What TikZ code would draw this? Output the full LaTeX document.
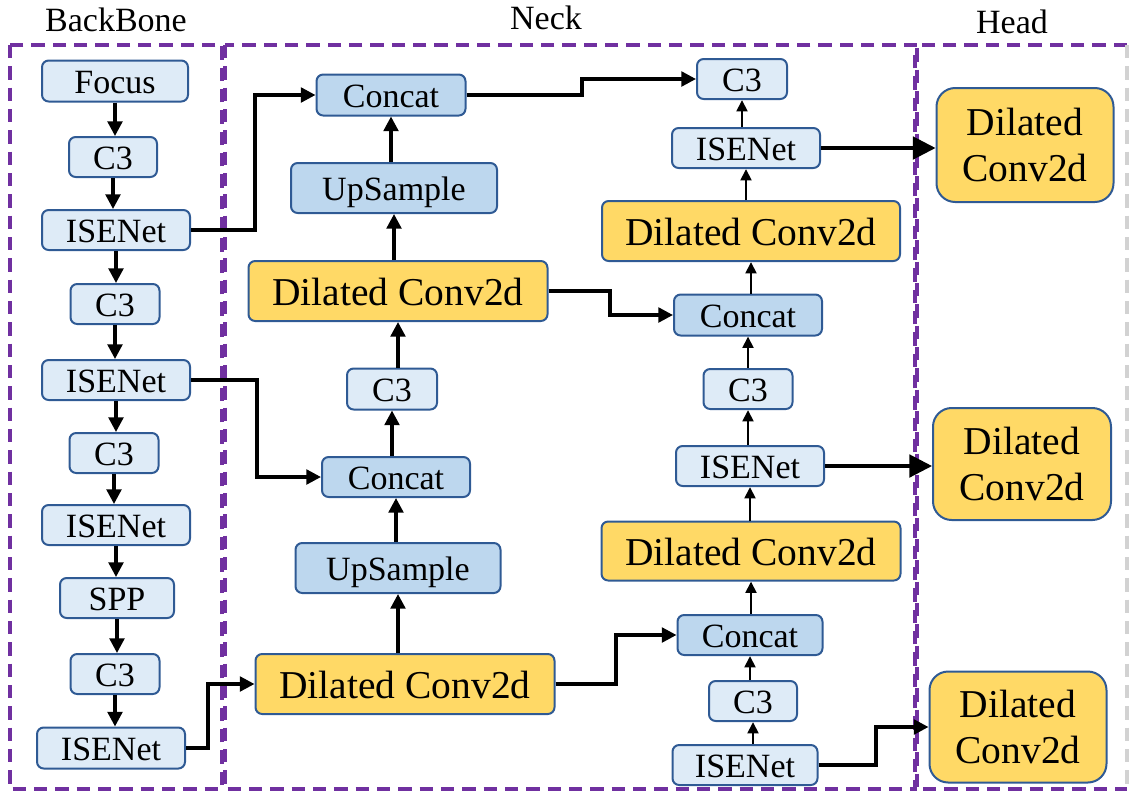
\documentclass[tikz,border=0pt]{standalone}
\usepackage{fontspec}
\setmainfont{Liberation Serif}
\usetikzlibrary{arrows.meta}

\definecolor{lightb}{HTML}{DEEBF7}
\definecolor{midb}{HTML}{BDD7EE}
\definecolor{goldc}{HTML}{FFD966}
\definecolor{bordc}{HTML}{2F5A94}
\definecolor{zonec}{HTML}{7030A0}

\newcommand\upx{0.75pt}

\begin{document}
\begin{tikzpicture}[x=0.75pt, y=-0.75pt,
  sz/.style 2 args={minimum width=#1*\upx, minimum height=#2*\upx},
  blk/.style={draw=bordc, line width=1.5pt, rounded corners=5pt, inner sep=0pt,
              font=\fontsize{25.5}{30}\selectfont, text height=21pt, text depth=2pt},
  lb/.style={blk, fill=lightb},
  mb/.style={blk, fill=midb},
  gd/.style={blk, fill=goldc, font=\fontsize{29.6}{34}\selectfont, text height=24pt, text depth=3pt},
  hd/.style={draw=bordc, fill=goldc, line width=1.5pt, rounded corners=14pt, inner sep=0pt,
             align=center, font=\fontsize{29.6}{34.5}\selectfont},
  arr/.style={line width=2.5pt, -{Triangle[length=11pt,width=11pt]}},
  sarr/.style={line width=2.2pt, -{Triangle[length=8.5pt,width=8pt]}},
  barr/.style={line width=2.3pt, -{Triangle[length=17pt,width=17pt]}},
  zone/.style={draw=zonec, line width=3pt, dash pattern=on 10pt off 6pt},
  ttl/.style={font=\fontsize{25.5}{30}\selectfont, inner sep=0pt}
]
\useasboundingbox (0,0) rectangle (1129,794);

% section frames
\draw[zone] (10,45) rectangle (222,789);
\draw[zone] (225,45) rectangle (915,789);
\draw[zone] (1127,45) -- (917,45) -- (917,789) -- (1127,789);
\draw[gray!35, line width=2.5pt, dash pattern=on 10pt off 6pt] (1127,45) -- (1127,789);

% section titles
\node[ttl] (tb) at (116,20) {BackBone};
\node[ttl] (tn) at (546,18) {Neck};
\node[ttl] (th) at (1012,22) {Head};

% backbone
\node[lb, sz={146}{41}] (b1) at (115,81) {Focus};
\node[lb, sz={88}{40}]  (b2) at (113,157) {C3};
\node[lb, sz={148}{40}] (b3) at (116,230) {ISENet};
\node[lb, sz={89}{40}]  (b4) at (115,304) {C3};
\node[lb, sz={148}{40}] (b5) at (116,380) {ISENet};
\node[lb, sz={89}{40}]  (b6) at (114,453) {C3};
\node[lb, sz={148}{40}] (b7) at (116,525) {ISENet};
\node[lb, sz={114}{40}] (b8) at (117,598) {SPP};
\node[lb, sz={89}{40}]  (b9) at (115,674) {C3};
\node[lb, sz={148}{41}] (b10) at (111,748) {ISENet};

\foreach \a/\b in {b1/b2, b2/b3, b3/b4, b4/b5, b5/b6, b6/b7, b7/b8, b8/b9, b9/b10}
  \draw[arr] (\a.south) -- (\a.south |- \b.north);

% neck, upward path
\node[mb, sz={149}{41}] (n1) at (391,95) {Concat};
\node[mb, sz={206}{50}] (n2) at (394,188) {UpSample};
\node[gd, sz={299}{60}] (n3) at (398,291) {Dilated Conv2d};
\node[lb, sz={90}{41}]  (n4) at (392,389) {C3};
\node[mb, sz={148}{40}] (n5) at (396,477) {Concat};
\node[mb, sz={205}{50}] (n6) at (398,568) {UpSample};
\node[gd, sz={299}{60}] (n7) at (405,684) {Dilated Conv2d};

\foreach \a/\b in {n7/n6, n6/n5, n5/n4, n4/n3, n3/n2, n2/n1}
  \draw[arr] (\b.south |- \a.north) -- (\b.south);

% neck, downward path
\node[lb, sz={90}{40}]  (r1) at (742,79) {C3};
\node[lb, sz={148}{40}] (r2) at (746,148) {ISENet};
\node[gd, sz={298}{60}] (r3) at (751,231) {Dilated Conv2d};
\node[mb, sz={148}{41}] (r4) at (748,315) {Concat};
\node[lb, sz={89}{40}]  (r5) at (748,389) {C3};
\node[lb, sz={148}{40}] (r6) at (750,466) {ISENet};
\node[gd, sz={299}{59}] (r7) at (751,551) {Dilated Conv2d};
\node[mb, sz={145}{40}] (r8) at (750,635) {Concat};
\node[lb, sz={88}{40}]  (r9) at (753,701) {C3};
\node[lb, sz={145}{40}] (r10) at (745,765) {ISENet};

\foreach \a/\b in {r10/r9, r9/r8, r8/r7, r7/r6, r6/r5, r5/r4, r4/r3, r3/r2, r2/r1}
  \draw[sarr] (\b.south |- \a.north) -- (\b.south);

% head
\node[hd, sz={177}{114}] (h1) at (1025,145) {Dilated\\Conv2d};
\node[hd, sz={178}{112}] (h2) at (1022,464) {Dilated\\Conv2d};
\node[hd, sz={177}{111}] (h3) at (1018,727) {Dilated\\Conv2d};

% bend positions of the elbow connectors
\coordinate (k1) at (255,0);
\coordinate (k2) at (257,0);
\coordinate (k3) at (208,0);
\coordinate (k4) at (616,0);
\coordinate (k5) at (610,0);
\coordinate (k6) at (582,0);
\coordinate (k7) at (876,0);

\draw[arr] (b3.east) -| (k1 |- n1.west) -- (n1.west);
\draw[arr] (b5.east) -| (k2 |- n5.west) -- (n5.west);
\draw[arr] (b10.east) -| (k3 |- n7.west) -- (n7.west);
\draw[arr] (n7.east) -| (k4 |- r8.west) -- (r8.west);
\draw[arr] (n3.east) -| (k5 |- r4.west) -- (r4.west);
\draw[arr] (n1.east) -| (k6 |- r1.west) -- (r1.west);

\draw[barr] (r2.east) -- (r2.east -| h1.west);
\draw[barr] (r6.east) -- (r6.east -| h2.west);
\draw[arr] (r10.east) -| (k7 |- h3.west) -- (h3.west);
\end{tikzpicture}
\end{document}
